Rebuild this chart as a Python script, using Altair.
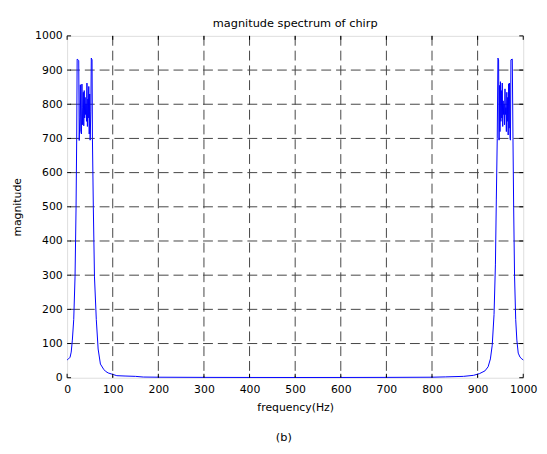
import altair as alt
import pandas as pd

# ---- data ----
left_freq = [0, 3, 6.5, 9, 11.5, 14.5, 17.4, 19.6, 21, 22, 25.5, 26.5, 28, 29, 30, 31.5, 32.5,
             33.5, 34.5, 35.5, 36.5, 37.5, 38.5, 39.5, 40.5, 41.5, 42.5, 43.5, 44.5, 45.5, 46.5,
             47.5, 48.5, 49.5, 50.5, 52, 53, 54.7, 55.5, 57.5, 60, 64, 68, 73, 80, 84, 90, 98,
             109, 127, 150, 167]
left_mag = [52, 55, 60, 75, 110, 170, 295, 497, 700, 932, 928, 694, 760, 857, 720, 713, 859,
            740, 790, 835, 737, 840, 760, 820, 770, 800, 750, 862, 735, 815, 760,
            852, 713, 830, 695, 780, 935, 930, 700, 497, 295, 170, 84, 40, 25, 19, 14, 10.6,
            6, 5, 4, 2]

floor_freq = [200, 300, 400, 500, 600, 700, 800, 830]
floor_mag = [1.5, 1, 0.8, 0.7, 0.8, 1, 1.5, 2.5]

right_freq = [869, 891, 904, 916, 923, 928, 932, 936, 939, 941, 943, 944.5, 946, 947, 948, 949,
              950, 951, 952, 953, 954, 955, 956, 957, 958, 959, 960, 961, 962, 963, 964, 965,
              966, 967, 968, 969, 970, 971, 972, 973, 976, 977.5, 979, 981, 983.5, 986, 989,
              993, 997, 1000]
right_mag = [4, 7, 12, 20, 32, 55, 95, 185, 330, 520, 700, 935, 930, 695, 855, 720,
             866, 750, 840, 760, 862, 735, 810, 770, 800, 740, 845, 770, 790, 720, 835, 750,
             820, 710, 860, 730, 862, 700, 695, 930, 932, 700, 497, 295, 170, 110, 72,
             60, 55, 52]

x_ticks = [0, 100, 200, 300, 400, 500, 600, 700, 800, 900, 1000]
y_ticks = [0, 100, 200, 300, 400, 500, 600, 700, 800, 900, 1000]
caption = ["(b)"]

FONT = "DejaVu Sans"
W, H = 463, 347

df = pd.DataFrame({"f": left_freq + floor_freq + right_freq,
                   "m": left_mag + floor_mag + right_mag})
df["i"] = range(len(df))

xs = alt.Scale(domain=[0, 1000], nice=False, zero=False)
ys = alt.Scale(domain=[0, 1000], nice=False, zero=False)

xt = pd.DataFrame({"t": x_ticks})
yt = pd.DataFrame({"t": y_ticks})
xg = pd.DataFrame({"t": x_ticks[1:-1]})
yg = pd.DataFrame({"t": y_ticks[1:-1]})

x_axis = alt.Axis(values=x_ticks, grid=False, ticks=False, domain=False,
                  labelFlush=False, labelOverlap=False, labelPadding=6,
                  labelFontSize=11, labelColor="black", labelFont=FONT,
                  title="frequency(Hz)", titleFontSize=11, titleFontWeight="normal",
                  titleColor="black", titleFont=FONT, titlePadding=7, format="d")
y_axis = alt.Axis(values=y_ticks, grid=False, ticks=False, domain=False,
                  labelOverlap=False, labelPadding=5, labelFontSize=11,
                  labelColor="black", labelFont=FONT,
                  title="magnitude", titleFontSize=11, titleFontWeight="normal",
                  titleColor="black", titleFont=FONT, titlePadding=12, format="d")

grid_style = dict(color="#444444", strokeDash=[10, 5], strokeWidth=1)

vgrid = alt.Chart(xg).mark_rule(**grid_style).encode(
    x=alt.X("t:Q", scale=xs, axis=x_axis))
hgrid = alt.Chart(yg).mark_rule(**grid_style).encode(
    y=alt.Y("t:Q", scale=ys, axis=y_axis))

line = alt.Chart(df).mark_line(color="#0000ff", strokeWidth=1).encode(
    x=alt.X("f:Q", scale=xs, axis=x_axis),
    y=alt.Y("m:Q", scale=ys, axis=y_axis),
    order="i:Q",
)

tick_style = dict(color="black", strokeWidth=1)
bticks = alt.Chart(xt).mark_rule(**tick_style).encode(
    x=alt.X("t:Q", scale=xs, axis=x_axis), y=alt.value(H), y2=alt.value(H - 4))
tticks = alt.Chart(xt).mark_rule(**tick_style).encode(
    x=alt.X("t:Q", scale=xs, axis=x_axis), y=alt.value(0), y2=alt.value(4))
lticks = alt.Chart(yt).mark_rule(**tick_style).encode(
    y=alt.Y("t:Q", scale=ys, axis=y_axis), x=alt.value(0), x2=alt.value(4))
rticks = alt.Chart(yt).mark_rule(**tick_style).encode(
    y=alt.Y("t:Q", scale=ys, axis=y_axis), x=alt.value(W), x2=alt.value(W - 4))

cap = alt.Chart(pd.DataFrame({"c": caption})).mark_text(
    font=FONT, fontSize=11.5, color="black", align="center", baseline="middle"
).encode(x=alt.value(220), y=alt.value(408), text="c:N")

chart = alt.layer(vgrid, hgrid, line, bticks, tticks, lticks, rticks, cap).properties(
    width=W, height=H,
    title=alt.TitleParams("magnitude spectrum of chirp", font=FONT, fontSize=11.5,
                          fontWeight="normal", color="black", anchor="middle",
                          offset=1),
    autosize=alt.AutoSizeParams(type="none"),
    padding={"left": 60, "top": 25, "right": 16, "bottom": 66},
).configure_view(stroke="black", strokeWidth=1).configure(background="white")

chart.save("out.html", embed_options={"renderer": "svg", "actions": False})
